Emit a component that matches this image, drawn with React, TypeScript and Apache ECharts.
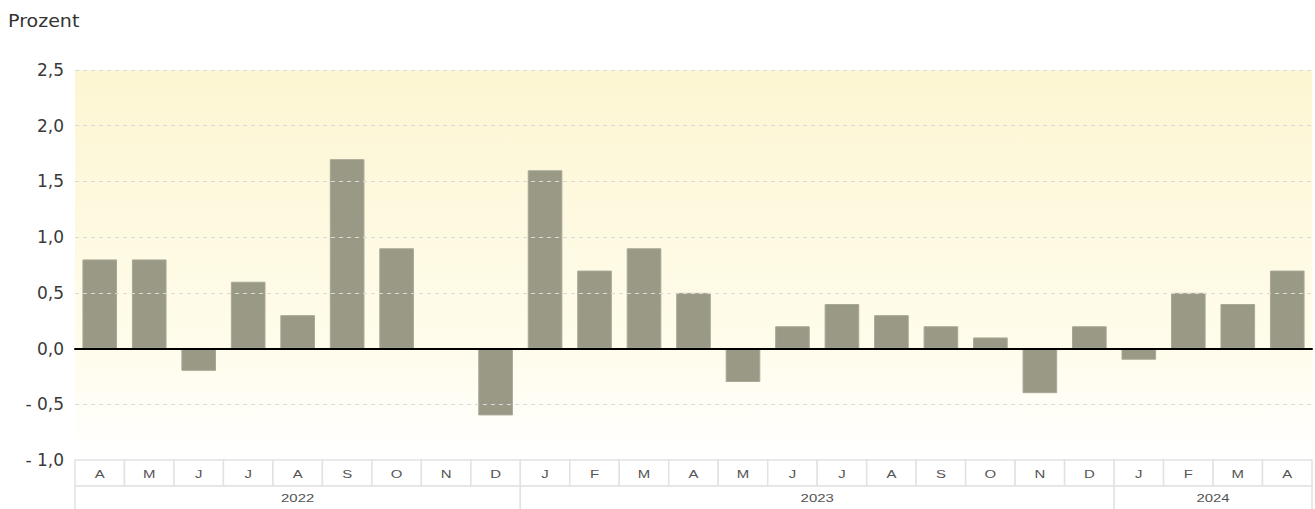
import React, { useEffect, useRef } from 'react';
import * as echarts from 'echarts';

const months = ['A', 'M', 'J', 'J', 'A', 'S', 'O', 'N', 'D', 'J', 'F', 'M', 'A', 'M', 'J', 'J', 'A', 'S', 'O', 'N', 'D', 'J', 'F', 'M', 'A'];
const values = [0.8, 0.8, -0.2, 0.6, 0.3, 1.7, 0.9, 0.0, -0.6, 1.6, 0.7, 0.9, 0.5, -0.3, 0.2, 0.4, 0.3, 0.2, 0.1, -0.4, 0.2, -0.1, 0.5, 0.4, 0.7];
const years = ['2022', '2023', '2024'];
const yearStart = [0, 9, 21];
const yearEnd = [8, 20, 24];
const yMin = -1;
const yMax = 2.5;
const yStep = 0.5;
const unitLabel = 'Prozent';

const FONT = '"Liberation Sans", Arial, sans-serif';
const WIDE = '"DejaVu Sans", "Liberation Sans", sans-serif';

function fmt(v: number): string {
  const s = Math.abs(v).toFixed(1).replace('.', ',');
  return v < 0 ? '- ' + s : s;
}

export default function App() {
  const ref = useRef<HTMLDivElement>(null);
  useEffect(() => {
    if (!ref.current) return;
    const chart = echarts.init(ref.current, null, { renderer: 'svg' });
    const option: any = {
      animation: false,
      graphic: [
        {
          type: 'text',
          left: 8,
          top: 12,
          scaleX: 1.12,
          style: { text: unitLabel, font: '17px ' + WIDE, fill: '#333' },
        },
      ],
      grid: {
        left: 75,
        right: 3,
        top: 70,
        bottom: 49,
        show: true,
        borderWidth: 0,
        backgroundColor: new echarts.graphic.LinearGradient(0, 0, 0, 1, [
          { offset: 0, color: '#fcf6d2' },
          { offset: 0.72, color: '#fffcec' },
          { offset: 1, color: '#ffffff' },
        ]),
      },
      xAxis: {
        type: 'category',
        data: months,
        z: 5,
        axisLine: { onZero: true, lineStyle: { color: '#000', width: 2 } },
        axisTick: { show: false },
        axisLabel: { show: false },
        splitLine: { show: false },
      },
      yAxis: {
        type: 'value',
        min: yMin,
        max: yMax,
        interval: yStep,
        z: 5,
        axisLine: { show: false },
        axisTick: { show: false },
        axisLabel: {
          formatter: (v: number) => fmt(v),
          fontFamily: WIDE,
          fontSize: 17,
          color: '#3a3a3a',
          margin: 11,
        },
        splitLine: {
          show: true,
          lineStyle: { color: '#d9d9d9', type: [4, 4], width: 1 },
        },
      },
      series: [
        {
          type: 'bar',
          data: values,
          barWidth: '70%',
          itemStyle: { color: '#999986', borderColor: '#a8a897', borderWidth: 1 },
        },
        {
          type: 'custom',
          clip: false,
          z: 10,
          data: months.map((m, i) => [i, yMin]),
          renderItem: (params: any, api: any) => {
            const i = api.value(0);
            const p = api.coord([i, yMin]);
            const w = api.size([1, 0])[0];
            return {
              type: 'group',
              children: [
                {
                  type: 'rect',
                  shape: { x: p[0] - w / 2, y: p[1], width: w, height: 26 },
                  style: { fill: '#ffffff', stroke: '#e2e2e2', lineWidth: 1.5 },
                },
                {
                  type: 'text',
                  x: p[0],
                  y: p[1] + 14,
                  scaleX: 1.3,
                  style: {
                    text: months[params.dataIndex],
                    x: 0,
                    y: 0,
                    align: 'center',
                    verticalAlign: 'middle',
                    fill: '#555',
                    font: '11.5px ' + FONT,
                  },
                },
              ],
            };
          },
        },
        {
          type: 'custom',
          clip: false,
          z: 10,
          data: years.map((y, k) => [yearStart[k], yMin, yearEnd[k]]),
          renderItem: (params: any, api: any) => {
            const s = api.value(0);
            const e = api.value(2);
            const w = api.size([1, 0])[0];
            const p0 = api.coord([s, yMin]);
            const p1 = api.coord([e, yMin]);
            const x0 = p0[0] - w / 2;
            const x1 = p1[0] + w / 2;
            const top = p0[1] + 26;
            return {
              type: 'group',
              children: [
                {
                  type: 'rect',
                  shape: { x: x0, y: top, width: x1 - x0, height: 28 },
                  style: { fill: '#ffffff', stroke: '#e2e2e2', lineWidth: 1.5 },
                },
                {
                  type: 'text',
                  x: (x0 + x1) / 2,
                  y: top + 12,
                  scaleX: 1.3,
                  style: {
                    text: years[params.dataIndex],
                    x: 0,
                    y: 0,
                    align: 'center',
                    verticalAlign: 'middle',
                    fill: '#555',
                    font: '11.5px ' + FONT,
                  },
                },
              ],
            };
          },
        },
      ],
    };
    chart.setOption(option);
    return () => chart.dispose();
  }, []);
  return (
    <div
      ref={ref}
      style={{ position: 'absolute', left: 0, top: 0, width: 1315, height: 509 }}
    />
  );
}
